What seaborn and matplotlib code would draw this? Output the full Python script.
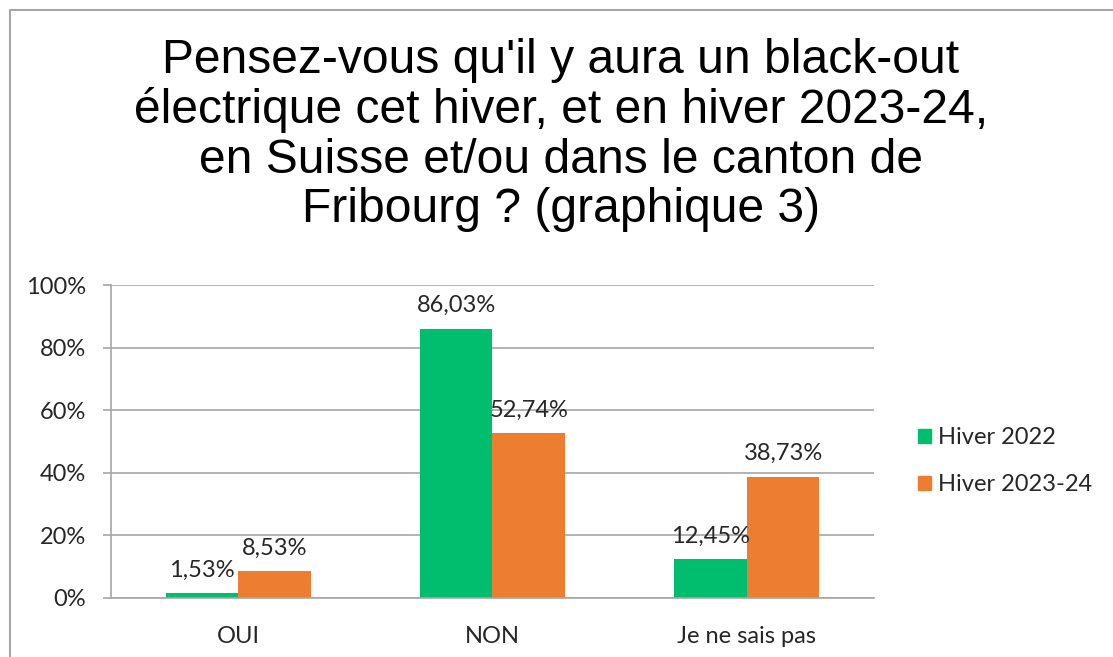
import matplotlib
matplotlib.use("Agg")
import matplotlib.pyplot as plt
import seaborn as sns
import pandas as pd
from matplotlib.lines import Line2D

categories = ["OUI", "NON", "Je ne sais pas"]
hiver_2022 = [1.53, 86.03, 12.45]
hiver_2023_24 = [8.53, 52.74, 38.73]
series_names = ["Hiver 2022", "Hiver 2023-24"]
y_ticks = [0, 20, 40, 60, 80, 100]
title = ("Pensez-vous qu'il y aura un black-out\n"
         "électrique cet hiver, et en hiver 2023-24,\n"
         "en Suisse et/ou dans le canton de\n"
         "Fribourg ? (graphique 3)")

df = pd.DataFrame({
    "cat": categories * 2,
    "val": hiver_2022 + hiver_2023_24,
    "serie": [series_names[0]] * 3 + [series_names[1]] * 3,
})

sns.set_theme(style="white")
plt.rcParams["font.family"] = ["Lato", "DejaVu Sans"]

colors = ["#00BE6E", "#ED7D31"]
W, H = 1113, 657
fig = plt.figure(figsize=(W / 100, H / 100), dpi=100)
ax = fig.add_axes([111 / W, 1 - 598 / H, (874 - 111) / W, (598 - 285) / H])

sns.barplot(data=df, x="cat", y="val", hue="serie", palette=colors,
            width=0.57, ax=ax, legend=False, saturation=1, edgecolor="none")

fs = 17
ax.set_ylim(0, 100)
ax.set_xlim(-0.5, 2.5)
ax.set_yticks(y_ticks)
ax.set_yticklabels([f"{t}%" for t in y_ticks], fontsize=fs)
ax.yaxis.grid(True, color="#A6A6A6", linewidth=1.2)
ax.set_axisbelow(True)
ax.set_xlabel("")
ax.set_ylabel("")
ax.tick_params(axis="x", which="major", length=0, labelsize=fs, pad=20)
ax.set_xticks([0.5, 1.5, 2.5], minor=True)
ax.tick_params(axis="x", which="minor", length=6, color="#A6A6A6", width=1.2)
ax.tick_params(axis="y", length=6, color="#A6A6A6", width=1.2, pad=12, left=True)
for s in ["top", "right"]:
    ax.spines[s].set_visible(False)
for s in ["left", "bottom"]:
    ax.spines[s].set_color("#A6A6A6")
    ax.spines[s].set_linewidth(1.2)

for cont in ax.containers:
    ax.bar_label(cont, labels=[f"{v:.2f}%".replace(".", ",") for v in cont.datavalues],
                 fontsize=fs, padding=9)

handles = [plt.Rectangle((0, 0), 1, 1, color=c) for c in colors]
fig.legend(handles, series_names, loc="center left", bbox_to_anchor=(897 / W, 1 - 461 / H),
           frameon=False, fontsize=fs, handlelength=0.55, handleheight=0.55,
           handletextpad=0.3, labelspacing=1.1)

fig.text(561 / W, 1 - 135 / H, title, ha="center", va="center", fontsize=34.6,
         family=["Liberation Sans", "DejaVu Sans"], linespacing=1.12, color="black")

fig.add_artist(Line2D([10 / W, 10 / W], [0, 1 - 10 / H], color="#A6A6A6", lw=1.5,
                      transform=fig.transFigure))
fig.add_artist(Line2D([10 / W, 1], [1 - 10 / H, 1 - 10 / H], color="#A6A6A6", lw=1.5,
                      transform=fig.transFigure))

fig.savefig("out.png", dpi=100)
